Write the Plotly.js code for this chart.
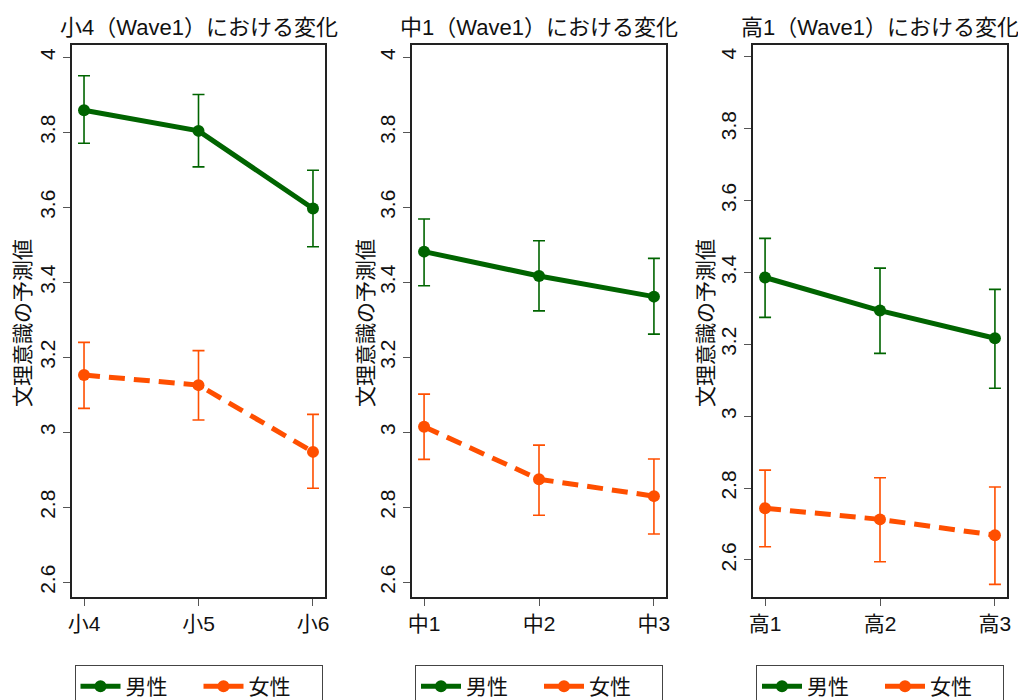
<!DOCTYPE html>
<html>
<head>
<meta charset="utf-8">
<script src="https://cdn.plot.ly/plotly-3.0.1.min.js"></script>
<style>html,body{margin:0;padding:0;background:#fff;}#chart{width:1018px;height:700px;}</style>
</head>
<body>
<div id="chart"></div>
<script>
// ---- data ----
const panelTitles = ['小4（Wave1）における変化', '中1（Wave1）における変化', '高1（Wave1）における変化'];
const catsP1 = ['小4', '小5', '小6'];
const catsP2 = ['中1', '中2', '中3'];
const catsP3 = ['高1', '高2', '高3'];

const maleP1 = [3.859, 3.804, 3.597];
const maleP1Hi = [3.951, 3.901, 3.699];
const maleP1Lo = [3.771, 3.708, 3.495];
const femaleP1 = [3.153, 3.126, 2.948];
const femaleP1Hi = [3.240, 3.218, 3.048];
const femaleP1Lo = [3.064, 3.033, 2.851];

const maleP2 = [3.482, 3.417, 3.362];
const maleP2Hi = [3.569, 3.511, 3.464];
const maleP2Lo = [3.391, 3.324, 3.262];
const femaleP2 = [3.015, 2.875, 2.830];
const femaleP2Hi = [3.102, 2.966, 2.929];
const femaleP2Lo = [2.928, 2.779, 2.729];

const maleP3 = [3.386, 3.294, 3.217];
const maleP3Hi = [3.495, 3.412, 3.353];
const maleP3Lo = [3.275, 3.175, 3.078];
const femaleP3 = [2.744, 2.713, 2.669];
const femaleP3Hi = [2.850, 2.829, 2.803];
const femaleP3Lo = [2.637, 2.595, 2.532];

const yTickVals = [2.6, 2.8, 3, 3.2, 3.4, 3.6, 3.8, 4];
const yTickText = ['2.6', '2.8', '3', '3.2', '3.4', '3.6', '3.8', '4'];
const seriesNames = ['男性', '女性'];
const yTitle = '文理意識の予測値';

// ---- styles ----
const GREEN = '#006400';
const ORANGE = '#ff4f00';
const FONT = 'Liberation Sans, Arial, Noto Sans CJK JP, sans-serif';

function mk(cats, vals, hi, lo, idx, name, color, dash, legendId) {
  return {
    type: 'scatter', mode: 'lines+markers',
    x: cats, y: vals, name: name,
    xaxis: idx === 1 ? 'x' : 'x' + idx,
    yaxis: idx === 1 ? 'y' : 'y' + idx,
    legend: legendId, showlegend: true,
    line: {color: color, width: 5, dash: dash},
    marker: {color: color, size: 12, symbol: 'circle'},
    error_y: {type: 'data', symmetric: false,
      array: hi.map((h, i) => h - vals[i]),
      arrayminus: lo.map((l, i) => vals[i] - l),
      color: color, thickness: 1.6, width: 6},
    hoverinfo: 'x+y'
  };
}
const dashF = '16px,9px';
const data = [
  mk(catsP1, maleP1, maleP1Hi, maleP1Lo, 1, seriesNames[0], GREEN, 'solid', 'legend'),
  mk(catsP1, femaleP1, femaleP1Hi, femaleP1Lo, 1, seriesNames[1], ORANGE, dashF, 'legend'),
  mk(catsP2, maleP2, maleP2Hi, maleP2Lo, 2, seriesNames[0], GREEN, 'solid', 'legend2'),
  mk(catsP2, femaleP2, femaleP2Hi, femaleP2Lo, 2, seriesNames[1], ORANGE, dashF, 'legend2'),
  mk(catsP3, maleP3, maleP3Hi, maleP3Lo, 3, seriesNames[0], GREEN, 'solid', 'legend3'),
  mk(catsP3, femaleP3, femaleP3Hi, femaleP3Lo, 3, seriesNames[1], ORANGE, dashF, 'legend3')
];

const W = 1018, H = 700;
const px = v => v / W, py = v => 1 - v / H;
const yDom = [py(597), py(45)];
const xDoms = [[px(72), px(325)], [px(412), px(666)], [px(753), px(1007)]];
const yRanges = [[2.561, 4.033], [2.561, 4.033], [2.497, 4.033]];

function xa(dom, yid) {
  return {domain: dom, anchor: yid, type: 'category', range: [-0.105, 2.105],
    showline: true, linecolor: '#222', linewidth: 2, mirror: true,
    ticks: 'outside', ticklen: 7, tickcolor: '#555', tickwidth: 1,
    showgrid: false, zeroline: false, fixedrange: true,
    tickfont: {family: FONT, size: 21, color: '#111'}};
}
function ya(range, xid) {
  return {domain: yDom, anchor: xid, range: range,
    tickvals: yTickVals, ticktext: yTickText, tickangle: -90,
    showline: true, linecolor: '#222', linewidth: 2, mirror: true,
    ticks: 'outside', ticklen: 7, tickcolor: '#555', tickwidth: 1,
    showgrid: false, zeroline: false, fixedrange: true,
    tickfont: {family: FONT, size: 21, color: '#111'}};
}

const annotations = [];
const centers = xDoms.map(d => (d[0] + d[1]) / 2);
panelTitles.forEach((t, i) => {
  annotations.push({text: t, xref: 'paper', yref: 'paper', x: centers[i], y: py(27),
    xanchor: 'center', yanchor: 'middle', showarrow: false,
    font: {family: FONT, size: 22, color: '#111'}});
});
[22, 365, 705].forEach(xp => {
  annotations.push({text: yTitle, xref: 'paper', yref: 'paper', x: px(xp), y: py(323),
    xanchor: 'center', yanchor: 'middle', textangle: -90, showarrow: false,
    font: {family: FONT, size: 21, color: '#111'}});
});

function lg(cx) {
  return {orientation: 'h', x: cx, xanchor: 'center', y: py(665), yanchor: 'top',
    xref: 'paper', yref: 'paper',
    bordercolor: '#444', borderwidth: 1, bgcolor: '#fff',
    font: {family: FONT, size: 21, color: '#111'},
    entrywidth: 68, entrywidthmode: 'pixels', itemwidth: 40};
}

const layout = {
  width: W, height: H,
  margin: {l: 0, r: 0, t: 0, b: 0, autoexpand: false},
  paper_bgcolor: '#fff', plot_bgcolor: '#fff',
  xaxis: xa(xDoms[0], 'y'), yaxis: ya(yRanges[0], 'x'),
  xaxis2: xa(xDoms[1], 'y2'), yaxis2: ya(yRanges[1], 'x2'),
  xaxis3: xa(xDoms[2], 'y3'), yaxis3: ya(yRanges[2], 'x3'),
  legend: lg(centers[0]), legend2: lg(centers[1]), legend3: lg(centers[2]),
  annotations: annotations,
  showlegend: true
};

Plotly.newPlot('chart', data, layout, {displayModeBar: false, staticPlot: true});
</script>
</body>
</html>
